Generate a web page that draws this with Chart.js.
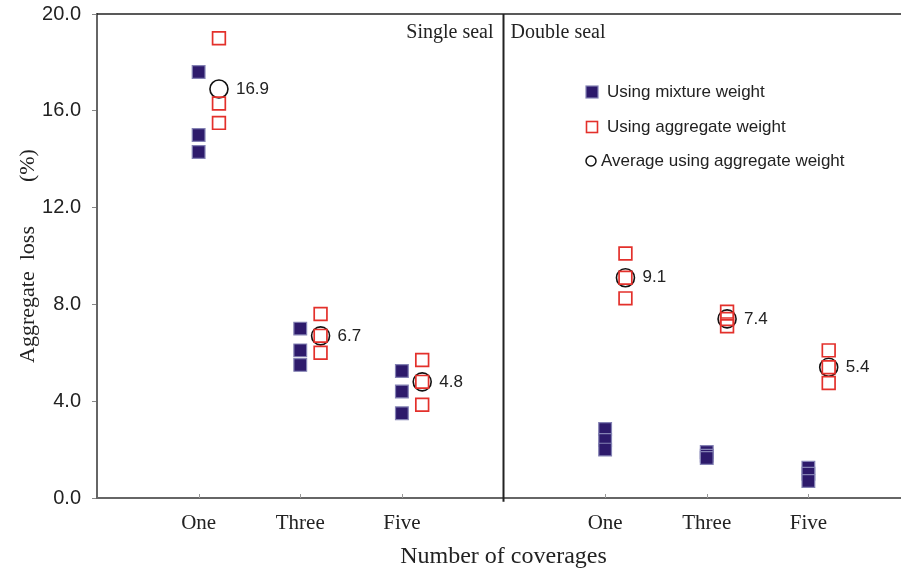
<!DOCTYPE html>
<html>
<head>
<meta charset="utf-8">
<script src="https://cdn.jsdelivr.net/npm/chart.js@4.4.1/dist/chart.umd.min.js"></script>
<style>
  html, body { margin: 0; padding: 0; background: #fff; overflow: hidden; }
  #wrap { width: 910px; height: 575px; }
</style>
</head>
<body>
<div id="wrap"><canvas id="chartLoss" width="910" height="575"></canvas></div>
<script>
// x positions of each group (4 is the split between single and double seal)
const groupPos = [1, 2, 3, 5, 6, 7];
const groupLabels = ['One', 'Three', 'Five', 'One', 'Three', 'Five'];
const sealSplit = 4;
const sealLabels = ['Single seal', 'Double seal'];

// aggregate loss (%) per group, three specimens each
const mixtureWeight = [
  [17.6, 15.0, 14.3],
  [7.0, 6.1, 5.5],
  [5.25, 4.4, 3.5],
  [2.85, 2.4, 2.0],
  [1.9, 1.75, 1.65],
  [1.25, 1.0, 0.7],
];
const aggregateWeight = [
  [19.0, 16.3, 15.5],
  [7.6, 6.7, 6.0],
  [5.7, 4.8, 3.85],
  [10.1, 9.1, 8.25],
  [7.7, 7.4, 7.1],
  [6.1, 5.4, 4.75],
];
const averageAggregate = [16.9, 6.7, 4.8, 9.1, 7.4, 5.4];

const yTicks = [0, 4, 8, 12, 16, 20];
const aggShift = 0.2;

const toPoints = (groups, shift) =>
  groups.flatMap((vals, i) => vals.map((v) => ({ x: groupPos[i] + shift, y: v })));

const SERIF = '"Liberation Serif", "Times New Roman", serif';
const SANS = '"Liberation Sans", Arial, sans-serif';

const mixtureStyle = { fill: '#2d1a6b', stroke: '#8482b4' };
const aggStyle = { stroke: '#e3302b' };

// frame, inner ticks, seal headings, value labels and legend
const decorations = {
  id: 'decorations',
  afterDatasetsDraw(chart) {
    const { ctx, chartArea, scales } = chart;
    const xs = scales.x;
    const ys = scales.y;
    ctx.save();

    // top line of the frame
    ctx.strokeStyle = '#222';
    ctx.lineWidth = 1.5;
    ctx.beginPath();
    ctx.moveTo(chartArea.left, chartArea.top);
    ctx.lineTo(chartArea.right, chartArea.top);
    ctx.stroke();

    // small upward ticks on the x axis
    ctx.strokeStyle = '#999';
    ctx.lineWidth = 1;
    groupPos.forEach((p) => {
      const px = Math.round(xs.getPixelForValue(p)) + 0.5;
      ctx.beginPath();
      ctx.moveTo(px, chartArea.bottom);
      ctx.lineTo(px, chartArea.bottom - 4);
      ctx.stroke();
    });

    // seal headings either side of the split
    const splitX = xs.getPixelForValue(sealSplit);
    ctx.fillStyle = '#222';
    ctx.font = '20px ' + SERIF;
    ctx.textBaseline = 'middle';
    ctx.textAlign = 'right';
    ctx.fillText(sealLabels[0], splitX - 10, chartArea.top + 19);
    ctx.textAlign = 'left';
    ctx.fillText(sealLabels[1], splitX + 7, chartArea.top + 19);

    // average value labels
    ctx.font = '17px ' + SANS;
    averageAggregate.forEach((v, i) => {
      const px = xs.getPixelForValue(groupPos[i] + aggShift);
      const py = ys.getPixelForValue(v);
      ctx.fillText(v.toFixed(1), px + 17, py);
    });

    // legend
    const lx = 592;
    const rows = [92, 127, 161];
    const names = chart.data.datasets.slice(0, 3).map((d) => d.label);
    ctx.font = '17px ' + SANS;

    ctx.fillStyle = mixtureStyle.fill;
    ctx.strokeStyle = mixtureStyle.stroke;
    ctx.lineWidth = 1.2;
    ctx.fillRect(lx - 6, rows[0] - 6, 12, 12);
    ctx.strokeRect(lx - 6, rows[0] - 6, 12, 12);

    ctx.strokeStyle = aggStyle.stroke;
    ctx.lineWidth = 1.6;
    ctx.strokeRect(lx - 5.5, rows[1] - 5.5, 11, 11);

    ctx.strokeStyle = '#111';
    ctx.lineWidth = 1.5;
    ctx.beginPath();
    ctx.arc(lx - 1, rows[2], 5, 0, Math.PI * 2);
    ctx.stroke();

    ctx.fillStyle = '#222';
    ctx.textAlign = 'left';
    ctx.fillText(names[0], lx + 15, rows[0]);
    ctx.fillText(names[1], lx + 15, rows[1]);
    ctx.fillText(names[2], lx + 9, rows[2]);

    ctx.restore();
  },
};

new Chart(document.querySelector('#chartLoss'), {
  type: 'scatter',
  data: {
    datasets: [
      {
        label: 'Using mixture weight',
        data: toPoints(mixtureWeight, 0),
        pointStyle: 'rect',
        pointRadius: 9,
        pointBackgroundColor: mixtureStyle.fill,
        pointBorderColor: mixtureStyle.stroke,
        pointBorderWidth: 1.2,
      },
      {
        label: 'Using aggregate weight',
        data: toPoints(aggregateWeight, aggShift),
        pointStyle: 'rect',
        pointRadius: 9,
        pointBackgroundColor: 'rgba(0,0,0,0)',
        pointBorderColor: aggStyle.stroke,
        pointBorderWidth: 1.7,
      },
      {
        label: 'Average using aggregate weight',
        data: averageAggregate.map((v, i) => ({ x: groupPos[i] + aggShift, y: v })),
        pointStyle: 'circle',
        pointRadius: 9,
        pointBackgroundColor: 'rgba(0,0,0,0)',
        pointBorderColor: '#111',
        pointBorderWidth: 1.6,
      },
      {
        label: 'split',
        type: 'line',
        data: [
          { x: sealSplit, y: -0.15 },
          { x: sealSplit, y: 20 },
        ],
        borderColor: '#222',
        borderWidth: 2,
        pointRadius: 0,
        clip: false,
      },
    ],
  },
  options: {
    responsive: false,
    animation: false,
    devicePixelRatio: 1,
    layout: { autoPadding: false, padding: { top: 14, right: 0, bottom: 0, left: 0 } },
    plugins: {
      legend: { display: false },
      tooltip: { enabled: false },
    },
    scales: {
      x: {
        type: 'linear',
        min: 0,
        max: 8,
        afterBuildTicks: (scale) => {
          scale.ticks = groupPos.map((v) => ({ value: v }));
        },
        afterFit: (scale) => {
          scale.height = 77;
          scale.paddingLeft = 0;
          scale.paddingRight = 0;
        },
        ticks: {
          autoSkip: false,
          maxRotation: 0,
          padding: 5,
          color: '#222',
          font: { family: SERIF, size: 21 },
          callback: (v) => groupLabels[groupPos.indexOf(v)],
        },
        grid: { display: false },
        border: { display: true, color: '#666', width: 2 },
        title: {
          display: true,
          text: 'Number of coverages',
          color: '#222',
          font: { family: SERIF, size: 24 },
          padding: { top: 0, bottom: 4 },
        },
      },
      y: {
        min: 0,
        max: 20,
        afterBuildTicks: (scale) => {
          scale.ticks = yTicks.map((v) => ({ value: v }));
        },
        afterFit: (scale) => {
          scale.width = 97;
          scale.paddingTop = 0;
          scale.paddingBottom = 0;
        },
        ticks: {
          padding: 11,
          color: '#222',
          font: { family: SANS, size: 20 },
          callback: (v) => v.toFixed(1),
        },
        grid: { drawOnChartArea: false, drawTicks: true, tickLength: 5, color: '#888' },
        border: { display: true, color: '#666', width: 2 },
        title: {
          display: true,
          text: 'Aggregate  loss        (%)',
          color: '#222',
          font: { family: SERIF, size: 22 },
          padding: { top: 15, bottom: 0 },
        },
      },
    },
  },
  plugins: [decorations],
});
</script>
</body>
</html>
